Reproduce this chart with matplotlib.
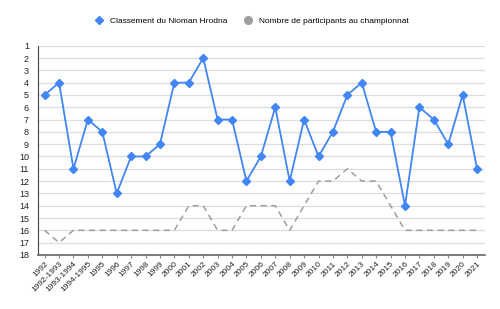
import matplotlib.pyplot as plt
from matplotlib.lines import Line2D

plt.rcParams['font.family'] = ['Liberation Sans', 'DejaVu Sans']

saisons = ['1992', '1992-1993', '1993-1994', '1994-1995'] + [str(a) for a in range(1995, 2022)]

classement = [5, 4, 11, 7, 8, 13, 10, 10, 9, 4, 4, 2, 7, 7, 12, 10, 6, 12, 7, 10,
              8, 5, 4, 8, 8, 14, 6, 7, 9, 5, 11]

participants = [16, 17, 16, 16, 16, 16, 16, 16, 16, 16, 14, 14, 16, 16, 14, 14, 14, 16, 14, 12,
                12, 11, 12, 12, 14, 16, 16, 16, 16, 16, 16]

bleu = '#4285f4'
gris = '#9e9e9e'

fig = plt.figure(figsize=(5, 3.09), dpi=100)
ax = fig.add_axes([0.076, 0.175, 0.894, 0.677])

x = list(range(len(saisons)))
ax.plot(x, participants, '--', color=gris, lw=1.1, dashes=(4, 3))
ax.plot(x, classement, color=bleu, lw=1.3, marker='D', ms=4.5, zorder=3)

ax.set_xlim(-0.46, 30.55)
ax.set_ylim(18, 1)
ax.set_yticks(range(1, 19))
ax.set_xticks(x)
ax.set_xticklabels(saisons, rotation=45, ha='right', rotation_mode='anchor')
ax.tick_params(axis='y', length=0, labelsize=6.5, pad=6.5, colors='#222222')
ax.tick_params(axis='x', length=2, labelsize=6, color='#888888', labelcolor='#222222', pad=2)
ax.grid(axis='y', color='#dddddd', lw=0.9)
ax.set_axisbelow(True)
for s in ['top', 'right']:
    ax.spines[s].set_visible(False)
ax.spines['left'].set_color('#444444')
ax.spines['bottom'].set_color('#666666')
ax.spines['bottom'].set_linewidth(1.2)

handles = [
    Line2D([], [], color=bleu, marker='D', ls='none', ms=4.5),
    Line2D([], [], color=gris, marker='o', ls='none', ms=5.5),
]
fig.legend(handles, ['Classement du Nioman Hrodna', 'Nombre de participants au championnat'],
           loc='center', bbox_to_anchor=(0.5, 0.933), ncol=2, frameon=False,
           fontsize=6, handletextpad=0.3, columnspacing=1.5)

fig.savefig('out.png', dpi=100)
